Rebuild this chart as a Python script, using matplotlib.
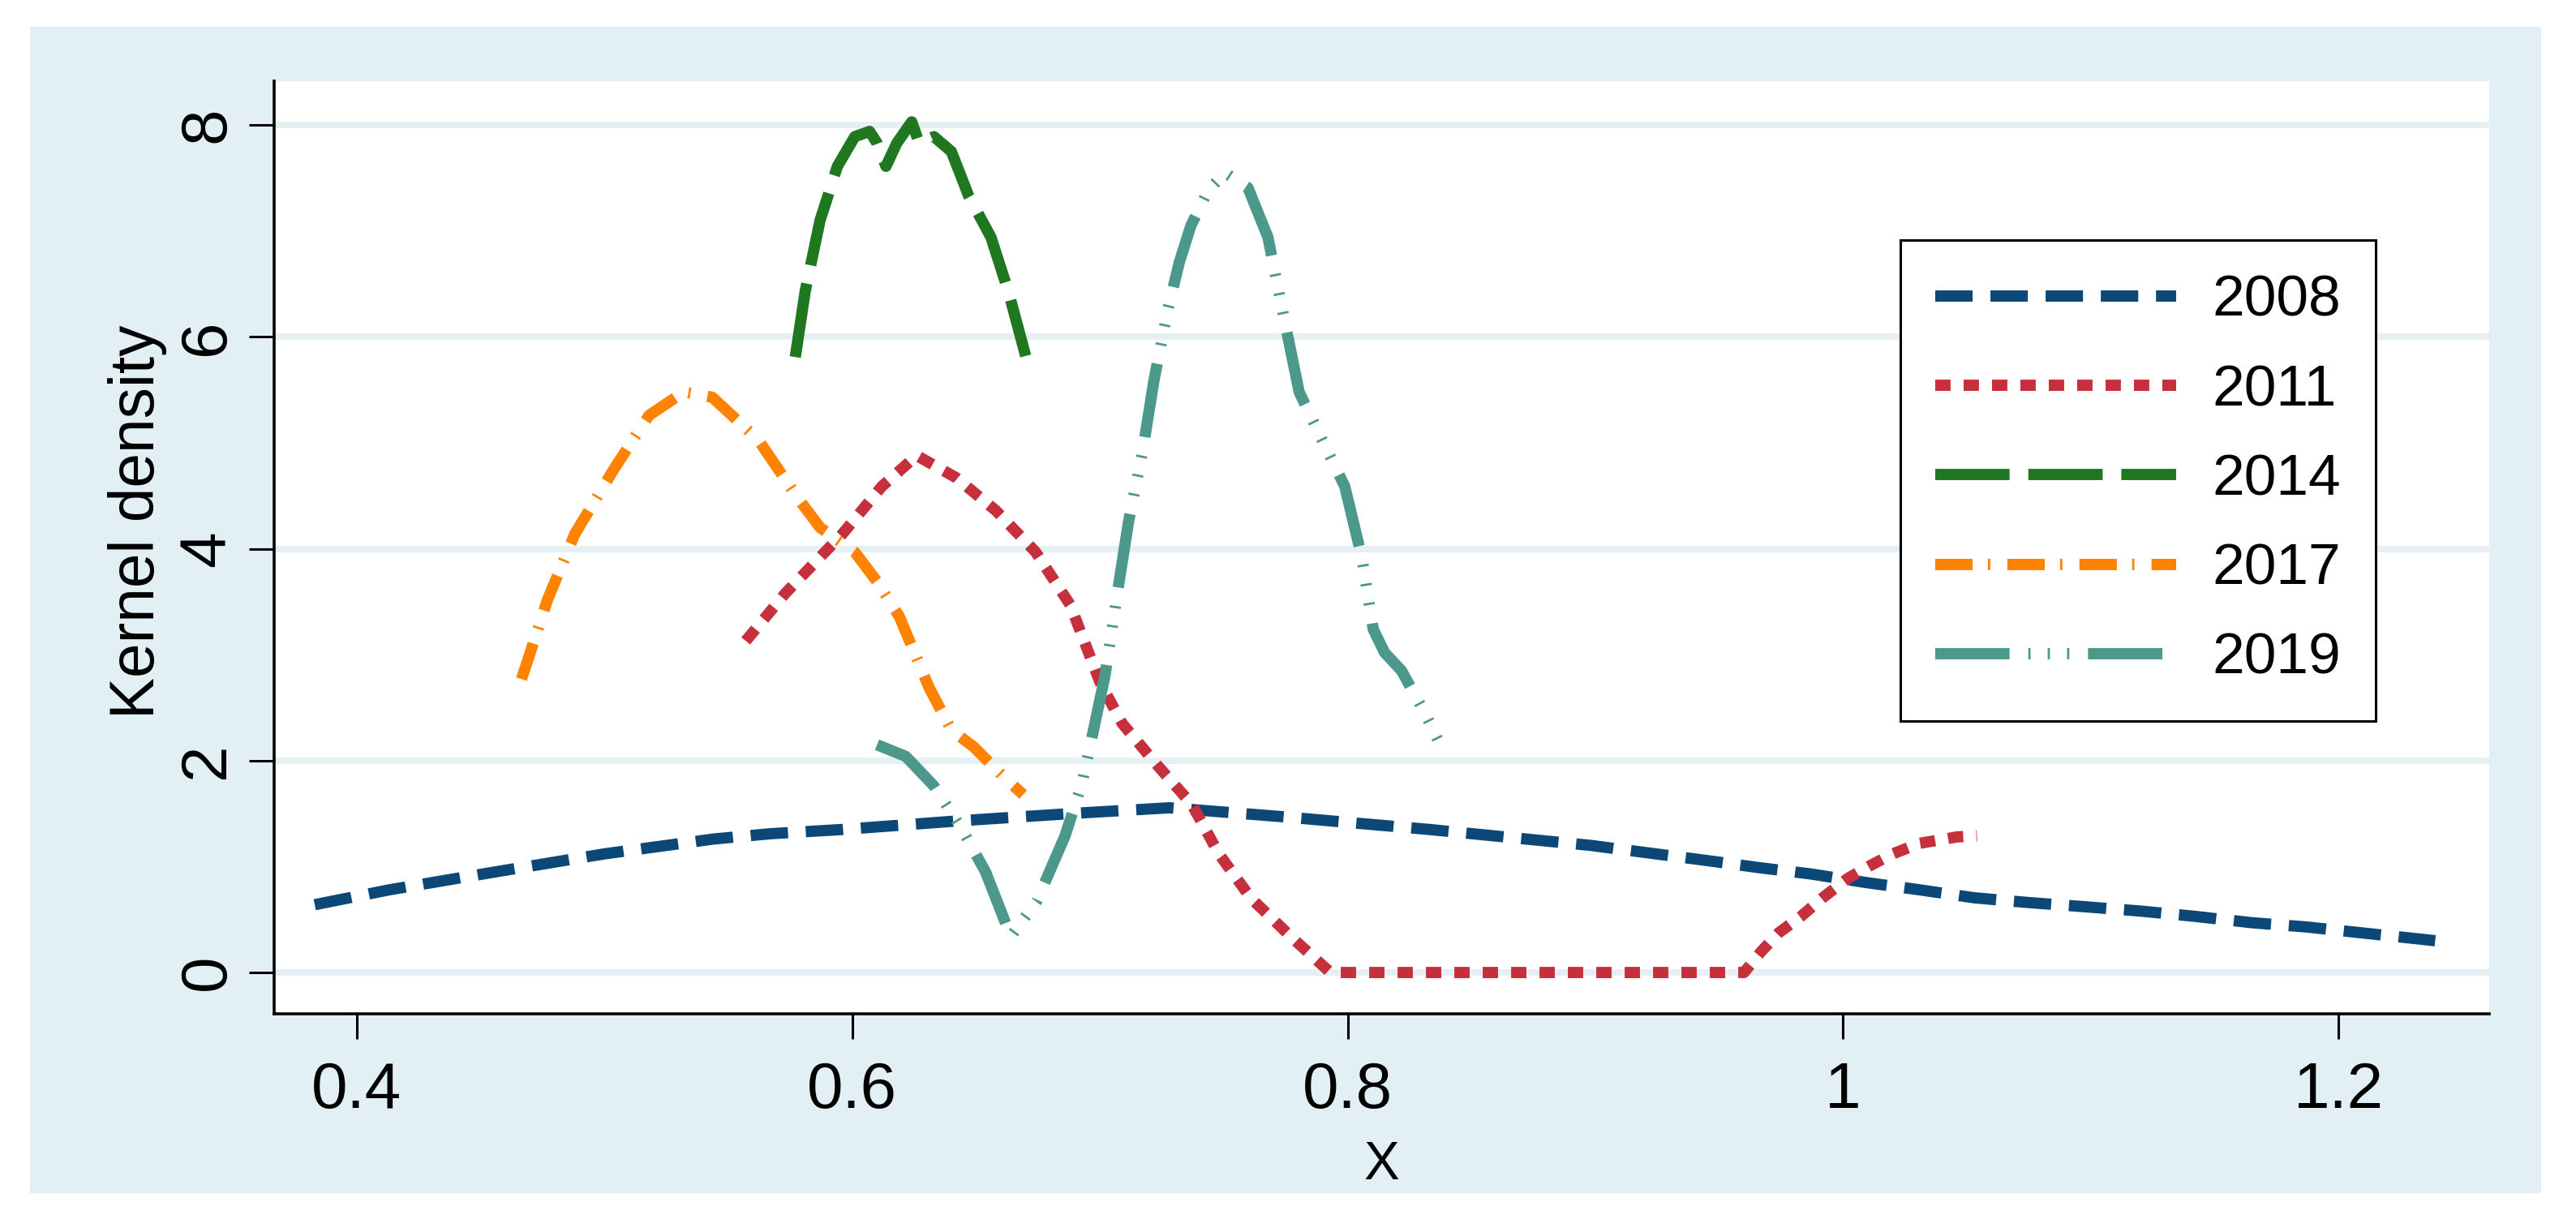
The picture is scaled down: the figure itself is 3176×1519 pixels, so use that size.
import matplotlib
matplotlib.use("Agg")
import matplotlib.pyplot as plt
from matplotlib.patches import Rectangle

plt.rcParams["font.family"] = ["Liberation Sans", "DejaVu Sans"]
plt.rcParams["lines.scale_dashes"] = False

# kernel density curves
x2008 = [0.383, 0.413, 0.456, 0.500, 0.544, 0.567, 0.596, 0.642, 0.688, 0.728,
         0.774, 0.833, 0.898, 0.944, 0.966, 0.987, 1.009, 1.031, 1.053, 1.075,
         1.098, 1.120, 1.142, 1.165, 1.187, 1.209, 1.239]
y2008 = [0.64, 0.78, 0.95, 1.12, 1.26, 1.31, 1.35, 1.43, 1.50, 1.555,
         1.47, 1.35, 1.20, 1.06, 0.99, 0.93, 0.85, 0.78, 0.705, 0.66,
         0.62, 0.58, 0.53, 0.47, 0.43, 0.375, 0.30]

x2011 = [0.557, 0.573, 0.596, 0.612, 0.626, 0.642, 0.658, 0.674, 0.688, 0.700,
         0.709, 0.723, 0.737, 0.748, 0.761, 0.777, 0.793, 0.960, 0.967, 0.974,
         0.983, 0.992, 1.002, 1.011, 1.020, 1.031, 1.046, 1.054]
y2011 = [3.13, 3.58, 4.14, 4.59, 4.88, 4.67, 4.36, 3.97, 3.47, 2.74,
         2.35, 1.96, 1.59, 1.12, 0.70, 0.34, 0.0, 0.0, 0.20, 0.375,
         0.53, 0.71, 0.89, 1.01, 1.12, 1.22, 1.28, 1.29]

x2014 = [0.577, 0.581, 0.587, 0.594, 0.601, 0.607, 0.610, 0.6136, 0.618, 0.624,
         0.627, 0.633, 0.640, 0.647, 0.656, 0.663, 0.670]
y2014 = [5.81, 6.43, 7.10, 7.61, 7.89, 7.94, 7.83, 7.61, 7.83, 8.03,
         7.83, 7.89, 7.75, 7.33, 6.94, 6.43, 5.82]

x2017 = [0.4665, 0.477, 0.488, 0.504, 0.518, 0.532, 0.5435, 0.562, 0.578, 0.587,
         0.601, 0.610, 0.619, 0.631, 0.640, 0.649, 0.661, 0.669]
y2017 = [2.77, 3.52, 4.14, 4.76, 5.26, 5.48, 5.43, 5.03, 4.48, 4.20,
         3.97, 3.69, 3.36, 2.69, 2.29, 2.13, 1.85, 1.68]

x2019 = [0.610, 0.6216, 0.633, 0.6446, 0.6538, 0.664, 0.6744, 0.6859, 0.6928, 0.6974,
         0.702, 0.707, 0.7115, 0.7172, 0.7218, 0.7275, 0.7321, 0.7367, 0.7436, 0.7505,
         0.7597, 0.7678, 0.7735, 0.7804, 0.7896, 0.7988, 0.8057, 0.8103, 0.8149, 0.8217,
         0.8309, 0.8378]
y2019 = [2.15, 2.04, 1.76, 1.34, 0.95, 0.34, 0.67, 1.29, 1.79, 2.29,
         2.80, 3.58, 4.25, 4.92, 5.59, 6.27, 6.71, 7.05, 7.38, 7.55,
         7.41, 6.94, 6.27, 5.48, 5.03, 4.59, 3.92, 3.24, 3.02, 2.85,
         2.46, 2.13]

labels = ["2008", "2011", "2014", "2017", "2019"]
xticks = [0.4, 0.6, 0.8, 1.0, 1.2]
xticklabels = ["0.4", "0.6", "0.8", "1", "1.2"]
yticks = [0, 2, 4, 6, 8]

fig = plt.figure(figsize=(15.88, 7.595), dpi=200, facecolor="white")

# light blue graph region behind the plot
fig.patches.append(Rectangle((0.0117, 0.0316), 0.9748, 0.9467, transform=fig.transFigure,
                             facecolor="#e2f0f5", edgecolor="none", zorder=-10))

ax = fig.add_axes([0.1064, 0.1771, 0.8599, 0.7571])
ax.set_zorder(1)
ax.set_facecolor("white")

lw = 5.0
ax.plot(x2008, y2008, color="#0b4877", lw=lw, dashes=(16.6, 7.9),
        dash_capstyle="butt", label=labels[0])
ax.plot(x2011, y2011, color="#c62f3c", lw=lw, dashes=(6.8, 5.8),
        dash_capstyle="butt", label=labels[1])
ax.plot(x2014, y2014, color="#1f771f", lw=lw, dashes=(33, 8.3),
        dash_capstyle="butt", label=labels[2])
ax.plot(x2017, y2017, color="#ff8300", lw=lw, dashes=(16.6, 6.8, 1.0, 7.6),
        dash_capstyle="butt", label=labels[3])
ax.plot(x2019, y2019, color="#4c988b", lw=lw,
        dashes=(33, 8.3, 1.0, 7.6, 1.0, 7.6, 1.0, 8.3),
        dash_capstyle="butt", label=labels[4])

ax.set_xlim(0.3666, 1.2608)
ax.set_ylim(-0.39, 8.415)
ax.set_xticks(xticks)
ax.set_xticklabels(xticklabels)
ax.set_yticks(yticks)
ax.set_yticklabels([str(v) for v in yticks], rotation=90, va="center")

ax.tick_params(axis="both", length=11, width=1.1, color="black", labelsize=28.8)
ax.tick_params(axis="x", pad=10)
ax.tick_params(axis="y", pad=5)

for s in ["top", "right"]:
    ax.spines[s].set_visible(False)
for s in ["left", "bottom"]:
    ax.spines[s].set_linewidth(1.3)
    ax.spines[s].set_color("black")

ax.yaxis.grid(True, color="#e6eff3", lw=2.9)
ax.set_axisbelow(True)

ax.set_xlabel("X", fontsize=23.6)
ax.xaxis.set_label_coords(0.5, -0.136)
ax.set_ylabel("Kernel density", fontsize=27.6)
ax.yaxis.set_label_coords(-0.0483, 0.528)

leg = ax.legend(loc="upper left", bbox_to_anchor=(0.7377, 0.8051),
                bbox_transform=fig.transFigure, borderaxespad=0,
                fontsize=25.7, handlelength=4.17, handletextpad=0.62,
                labelspacing=0.62, borderpad=0.6, fancybox=False,
                framealpha=1, edgecolor="black")
leg.get_frame().set_linewidth(1.1)

fig.savefig("out.png", dpi=200, facecolor="white")
